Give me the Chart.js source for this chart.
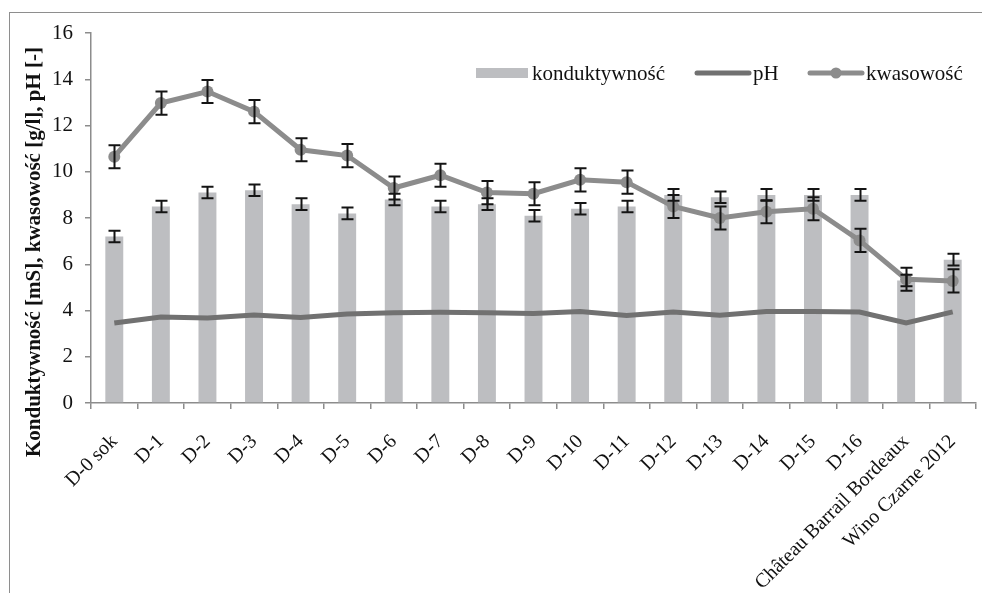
<!DOCTYPE html>
<html lang="pl">
<head>
<meta charset="utf-8">
<title>Konduktywność, pH i kwasowość</title>
<script src="https://cdn.jsdelivr.net/npm/chart.js@4.4.1/dist/chart.umd.min.js"></script>
<style>
  html, body { margin: 0; padding: 0; background: #fff; overflow: hidden; }
  #wrap { position: relative; width: 982px; height: 593px; }
  #frame { position: absolute; left: 9px; top: 12px; width: 1100px; height: 800px;
           border: 1px solid #8e8e8e; box-sizing: border-box; pointer-events: none; }
  canvas { position: absolute; left: 0; top: 0; }
</style>
</head>
<body>
<div id="wrap">
  <div id="frame"></div>
  <canvas id="chart" width="982" height="593"></canvas>
</div>
<script>
// Próbki: sok, kolejne dni fermentacji i dwa wina referencyjne
const categories = ['D-0 sok', 'D-1', 'D-2', 'D-3', 'D-4', 'D-5', 'D-6', 'D-7', 'D-8', 'D-9',
  'D-10', 'D-11', 'D-12', 'D-13', 'D-14', 'D-15', 'D-16', 'Château Barrail Bordeaux', 'Wino Czarne 2012'];

// konduktywność [mS]
const konduktywnosc = [7.2, 8.5, 9.1, 9.2, 8.6, 8.2, 8.8, 8.5, 8.6, 8.1, 8.4, 8.5, 9.0, 8.9, 9.0, 9.0, 9.0, 5.3, 6.2];
const konduktywnoscErr = [0.25, 0.25, 0.25, 0.25, 0.25, 0.25, 0.25, 0.25, 0.25, 0.25, 0.25, 0.25, 0.25, 0.25, 0.25, 0.25, 0.25, 0.25, 0.25];

// pH [-]
const ph = [3.46, 3.72, 3.68, 3.8, 3.7, 3.85, 3.9, 3.92, 3.9, 3.87, 3.96, 3.78, 3.94, 3.8, 3.96, 3.96, 3.93, 3.46, 3.94];

// kwasowość [g/l]
const kwasowosc = [10.65, 12.97, 13.47, 12.6, 10.95, 10.7, 9.3, 9.85, 9.1, 9.05, 9.65, 9.55, 8.5, 8.0, 8.27, 8.4, 7.03, 5.35, 5.28];
const kwasowoscErr = [0.5, 0.5, 0.5, 0.5, 0.5, 0.5, 0.5, 0.5, 0.5, 0.5, 0.5, 0.5, 0.5, 0.5, 0.5, 0.5, 0.5, 0.5, 0.5];

const yTicks = [0, 2, 4, 6, 8, 10, 12, 14, 16];
const yTitle = 'Konduktywność [mS], kwasowość [g/l], pH [-]';

const SERIF = '"Liberation Serif", "Times New Roman", serif';
const AXIS_GREY = '#8c8c8c';

// Słupki błędów rysowane przez skalę osi Y
const errorBars = {
  id: 'errorBars',
  afterDatasetsDraw(chart) {
    const ctx = chart.ctx;
    const y = chart.scales.y;
    ctx.save();
    ctx.strokeStyle = '#141414';
    ctx.lineWidth = 2;
    chart.data.datasets.forEach((ds, i) => {
      if (!ds.errors) return;
      const meta = chart.getDatasetMeta(i);
      meta.data.forEach((el, j) => {
        const v = ds.data[j], e = ds.errors[j];
        const x = Math.round(el.x) + 0.5;
        const yt = y.getPixelForValue(v + e);
        const yb = y.getPixelForValue(v - e);
        ctx.beginPath();
        ctx.moveTo(x, yt); ctx.lineTo(x, yb);
        ctx.moveTo(x - 6, yt); ctx.lineTo(x + 6, yt);
        ctx.moveTo(x - 6, yb); ctx.lineTo(x + 6, yb);
        ctx.stroke();
      });
    });
    ctx.restore();
  }
};

// Legenda u góry po prawej oraz pionowy opis osi Y
const decorations = {
  id: 'decorations',
  afterDraw(chart) {
    const ctx = chart.ctx;
    const ds = chart.data.datasets;
    ctx.save();
    ctx.font = '21px ' + SERIF;
    ctx.fillStyle = '#111';
    ctx.textBaseline = 'middle';
    const cy = 73;

    // konduktywność – prostokąt
    ctx.fillStyle = ds[0].backgroundColor;
    ctx.fillRect(476, 68, 52, 10);
    ctx.fillStyle = '#111';
    ctx.fillText(ds[0].label, 532, cy + 1);

    // pH – linia
    ctx.strokeStyle = ds[1].borderColor;
    ctx.lineWidth = 5;
    ctx.lineCap = 'round';
    ctx.beginPath(); ctx.moveTo(697, cy); ctx.lineTo(749, cy); ctx.stroke();
    ctx.fillText(ds[1].label, 753, cy + 1);

    // kwasowość – linia ze znacznikiem
    ctx.strokeStyle = ds[2].borderColor;
    ctx.beginPath(); ctx.moveTo(810, cy); ctx.lineTo(862, cy); ctx.stroke();
    ctx.fillStyle = ds[2].pointBackgroundColor;
    ctx.beginPath(); ctx.arc(836, cy, 5.5, 0, Math.PI * 2); ctx.fill();
    ctx.fillStyle = '#111';
    ctx.fillText(ds[2].label, 866, cy + 1);

    // opis osi Y
    ctx.font = 'bold 21px ' + SERIF;
    ctx.textAlign = 'center';
    ctx.textBaseline = 'alphabetic';
    ctx.translate(40, 252);
    ctx.rotate(-Math.PI / 2);
    ctx.fillText(yTitle, 0, 0);
    ctx.restore();
  }
};

new Chart(document.getElementById('chart'), {
  data: {
    labels: categories,
    datasets: [
      {
        type: 'bar',
        label: 'konduktywność',
        data: konduktywnosc,
        errors: konduktywnoscErr,
        backgroundColor: '#bdbec1',
        categoryPercentage: 1,
        barPercentage: 0.385,
        order: 3
      },
      {
        type: 'line',
        label: 'pH',
        data: ph,
        borderColor: '#717171',
        borderWidth: 5,
        pointRadius: 0,
        tension: 0,
        order: 2
      },
      {
        type: 'line',
        label: 'kwasowość',
        data: kwasowosc,
        errors: kwasowoscErr,
        borderColor: '#8c8c8c',
        borderWidth: 5,
        pointRadius: 6,
        pointBorderWidth: 0,
        pointBackgroundColor: '#8c8c8c',
        pointBorderColor: '#8c8c8c',
        tension: 0,
        order: 1
      }
    ]
  },
  options: {
    responsive: false,
    devicePixelRatio: 1,
    animation: false,
    layout: { padding: { top: 33, right: 2, left: 0, bottom: 0 } },
    plugins: { legend: { display: false }, tooltip: { enabled: false } },
    scales: {
      x: {
        offset: true,
        grid: { offset: true, drawOnChartArea: false, tickLength: 6, color: AXIS_GREY, lineWidth: 1.5 },
        border: { color: AXIS_GREY, width: 1.5 },
        ticks: { minRotation: 45, maxRotation: 45, autoSkip: false, padding: 21,
                 color: '#111', font: { family: SERIF, size: 20 } },
        afterFit(scale) {
          scale.height = 190;
          scale.paddingLeft = 0;
          scale.paddingRight = 0;
        }
      },
      y: {
        min: 0, max: 16,
        afterBuildTicks(scale) { scale.ticks = yTicks.map(v => ({ value: v })); },
        grid: { drawOnChartArea: false, tickLength: 6, color: AXIS_GREY, lineWidth: 1.5 },
        border: { color: AXIS_GREY, width: 1.5 },
        ticks: { padding: 12, color: '#111', font: { family: SERIF, size: 21 } },
        afterFit(scale) {
          scale.width = 91;
          scale.paddingTop = 0;
          scale.paddingBottom = 0;
        }
      }
    }
  },
  plugins: [errorBars, decorations]
});
</script>
</body>
</html>
